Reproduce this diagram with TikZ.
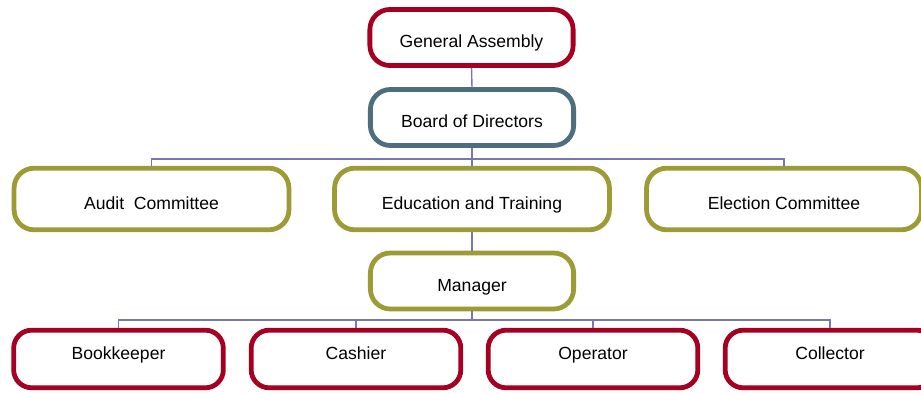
\documentclass[tikz,border=0pt]{standalone}
\usepackage{fontspec}
\setmainfont{Liberation Sans}
\definecolor{boxred}{HTML}{A50021}
\definecolor{boxblue}{HTML}{4E6E80}
\definecolor{boxolive}{HTML}{9C9B36}
\definecolor{linkline}{HTML}{7878B0}
\begin{document}
\begin{tikzpicture}[
  x=0.025cm,y=-0.025cm,
  font=\fontsize{12.5}{15}\selectfont,
  unit/.style={draw, line width=3.4pt, fill=white, rounded corners=0.5cm, align=center, inner sep=0pt, text height=0.6cm, text depth=0.1cm},
  topbox/.style={unit, minimum width=5.08cm, minimum height=1.4cm},
  midbox/.style={unit, minimum width=6.87cm, minimum height=1.54cm},
  staffbox/.style={unit, draw=boxred, rounded corners=0.45cm, minimum width=5.24cm, minimum height=1.44cm, text height=0.35cm, text depth=0.35cm},
  link/.style={draw=linkline, line width=1pt}
]
\useasboundingbox (0,0) rectangle (921,394);

\node[topbox, draw=boxred] (assembly) at (471.5,37.5) {General Assembly};
\node[topbox, draw=boxblue] (board) at (472,117.5) {Board of Directors};

\node[midbox, draw=boxolive] (audit) at (151.5,199) {Audit~~Committee};
\node[midbox, draw=boxolive] (training) at (472,199) {Education and Training};
\node[midbox, draw=boxolive] (election) at (784,199) {Election Committee};

\node[topbox, draw=boxolive] (manager) at (472,281) {Manager};

\node[staffbox] (bookkeeper) at (118.5,359) {Bookkeeper};
\node[staffbox] (cashier) at (356,359) {Cashier};
\node[staffbox] (operator) at (593,359) {Operator};
\node[staffbox] (collector) at (830,359) {Collector};

\coordinate (upperbus) at (472,159);
\coordinate (lowerbus) at (472,320);

\draw[link] (assembly.south) -- (board.north);
\draw[link] (board.south) -- (training.north);
\draw[link] (audit.north) |- (upperbus) -| (election.north);
\draw[link] (training.south) -- (manager.north);
\draw[link] (manager.south) -- (lowerbus);
\draw[link] (bookkeeper.north) |- (lowerbus) -| (collector.north);
\draw[link] (cashier.north) |- (lowerbus);
\draw[link] (operator.north) |- (lowerbus);
\end{tikzpicture}
\end{document}
